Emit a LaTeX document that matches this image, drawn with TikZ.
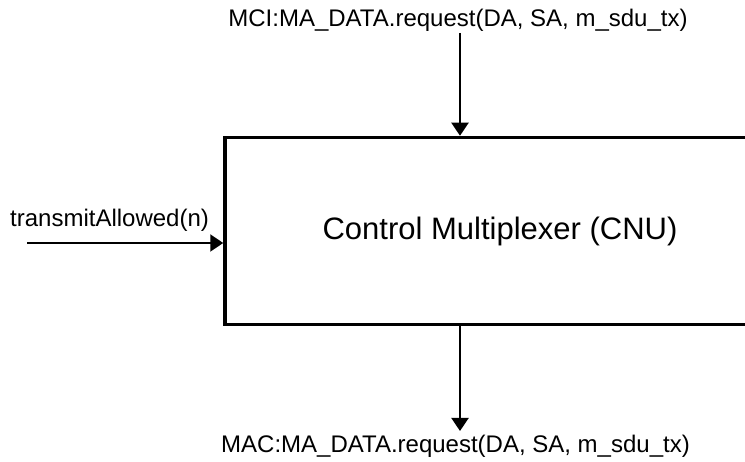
\documentclass[tikz,border=0pt]{standalone}
\usepackage{fontspec}
\setmainfont{Liberation Sans}
\usetikzlibrary{arrows.meta}
\begin{document}
\begin{tikzpicture}[x=1pt,y=-1pt]
	\tikzset{bloc/.style={draw=black, line width=3.5pt, minimum width=550pt, minimum height=187pt, inner sep=0pt, font=\fontsize{31}{36}\selectfont},
	etiquette/.style={inner sep=0pt, font=\fontsize{24}{28}\selectfont},
	fleche/.style={line width=2pt, -{Triangle[length=13pt, width=17pt]}}};

	\clip (0,0) rectangle (745,462);

	\node[bloc] (cnu) at (500,231) {Control Multiplexer (CNU)};

	\node[etiquette, anchor=base] (mci) at (458,27) {MCI:MA\_DATA.request(DA, SA, m\_sdu\_tx)};
	\node[etiquette, anchor=base] (mac) at (455.5,453) {MAC:MA\_DATA.request(DA, SA, m\_sdu\_tx)};
	\node[etiquette, anchor=base west] (tx) at (10,227) {transmitAllowed(n)};

	\coordinate (haut) at (460,33);
	\coordinate (bas) at (460,431);
	\coordinate (gauche) at (27,243);

	\draw[fleche] (haut) -- (haut |- cnu.north);
	\draw[fleche] (cnu.south -| bas) -- (bas);
	\draw[fleche] (gauche) -- (gauche -| cnu.west);

\end{tikzpicture}
\end{document}
